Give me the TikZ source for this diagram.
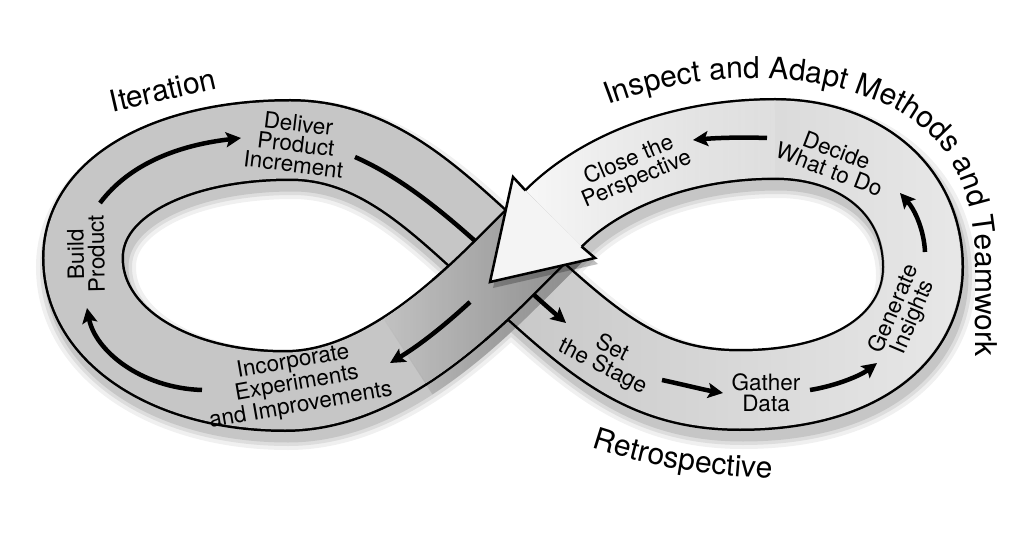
\documentclass[tikz,border=0pt]{standalone}
\usepackage{fontspec}
\setmainfont{TeX Gyre Heros}
\usetikzlibrary{arrows.meta,decorations.text,fadings}

\definecolor{bandgray}{HTML}{C6C6C6}
\definecolor{headfill}{HTML}{F4F4F4}
\newcommand\lblfont{\fontsize{22.5}{20.5}\selectfont}
\newcommand\bigfnt{\fontsize{30}{32}\selectfont}

\tikzfading[name=fadeR, left color=transparent!100, right color=transparent!40]
\tikzfading[name=fadeL, left color=transparent!10, right color=transparent!100]
\tikzfading[name=fadeDark, left color=transparent!100, middle color=transparent!100, right color=transparent!70]
\tikzfading[name=fadeSh, left color=transparent!100, middle color=transparent!100, right color=transparent!0]

\def\figeight{(507,265) .. controls (590,340) and (640,390) .. (740,390)
  .. controls (860,390) and (923,335) .. (923,267)
  .. controls (923,190) and (860,139) .. (775,139)
  .. controls (680,139) and (600,172) .. (553.5,218.5)
  -- (507,265) .. controls (447,325) and (370,391) .. (285,391)
  .. controls (170,391) and (83,335) .. (83,258)
  .. controls (83,185) and (175,140) .. (290,140)
  .. controls (380,140) and (440,205) .. (507,265)}
\def\rightloop{(507,265) .. controls (590,340) and (640,390) .. (740,390)
  .. controls (860,390) and (923,335) .. (923,267)
  .. controls (923,190) and (860,139) .. (775,139)
  .. controls (680,139) and (600,172) .. (553.5,218.5)}
\def\overstrand{(553.5,218.5) -- (507,265) .. controls (477,295) and (442.75,326.5) .. (405.375,350.5)}
\def\overD{(553.5,218.5) -- (507,265) .. controls (492,280) and (475.94,295.375) .. (458.95,310)}
\def\headpoly{(525.6,190.6) -- (513,177) -- (490,282) -- (595,258) -- (581.4,246.4)}

\begin{document}
\begin{tikzpicture}[x=1pt,y=-1pt,
  outline/.style={draw=black, line width=82pt},
  bandfill/.style={draw=bandgray, line width=77pt},
  flow/.style={line width=4.5pt, -{Stealth[length=15pt,width=15pt,inset=3pt]}},
  lbl/.style={font=\lblfont, align=center, inner sep=0pt},
  bigtext/.style={font=\bigfnt, inner sep=0pt}]

\fill[white] (0,0) rectangle (1024,534);
\useasboundingbox (0,0) rectangle (1024,534);

% soft drop shadow of the whole band
\begin{scope}[shift={(3,9)}]
  \draw[black, opacity=0.06, line width=100pt] \figeight;
  \draw[black, opacity=0.08, line width=92pt] \figeight;
  \draw[black, opacity=0.10, line width=85pt] \figeight;
\end{scope}

% base band
\draw[outline] \figeight;
\draw[bandfill] \figeight;
\draw[white, line width=77pt, path fading=fadeR] \rightloop;

% arrow passing under the crossing
\draw[flow] (355,157) .. controls (430,190) and (495,262) .. (566,323);

% shadow of the upper strand on the lower one
\begin{scope}[shift={(3,7)}]
  \draw[black, opacity=0.35, line width=88pt, path fading=fadeSh] \overstrand;
\end{scope}

% upper strand: outline only over the crossing, fill longer (no seams)
\draw[outline] \overD;
\draw[bandfill] \overstrand;
\draw[black, line width=77pt, path fading=fadeDark] \overstrand;

% white shaft
\draw[white, line width=77pt, path fading=fadeL] (775,139) .. controls (680,139) and (600,172) .. (553.5,218.5);

% arrow head
\fill[black, opacity=0.25, shift={(3,6)}] \headpoly -- cycle;
\fill[headfill] \headpoly -- cycle;
\draw[line width=2.5pt, line join=miter] \headpoly;

% flow arrows
\draw[flow] (100,203) .. controls (130,163) and (180,145) .. (241,138);
\draw[flow] (470,302) .. controls (445,325) and (420,345) .. (390,363);
\draw[flow] (202,390) .. controls (140,388) and (95,350) .. (87,308);
\draw[flow] (662,380) .. controls (685,385) and (705,390) .. (723,393);
\draw[flow] (810,390) .. controls (835,386) and (860,376) .. (877,363);
\draw[flow] (925,252) .. controls (924,230) and (915,210) .. (900,193);
\draw[flow] (767,138) .. controls (740,137) and (715,138) .. (693,140);

% labels
\node[lbl, rotate=-7] (deliver) at (296,144) {Deliver\\Product\\Increment};
\node[lbl, rotate=91] (build) at (86,254) {Build\\Product};
\node[lbl, rotate=10] (incorp) at (297,384) {Incorporate\\Experiments\\and Improvements};
\node[lbl, rotate=23] (close) at (633,170) {Close the\\Perspective};
\node[lbl, rotate=-21] (decide) at (833,160) {Decide\\What to Do};
\node[lbl, rotate=67] (generate) at (904,313) {Generate\\Insights};
\node[lbl] (gather) at (766,393) {Gather\\Data};
\node[lbl, rotate=-27] (setstage) at (607,358) {Set\\the Stage};
\node[bigtext, rotate=13] (iteration) at (163,90) {Iteration};

% curved titles
\path[decorate, decoration={text along path,
  text={|\bigfnt|Inspect and Adapt Methods and Teamwork}}]
  (608,105) .. controls (705,68) and (820,68) .. (900,112)
  .. controls (950,140) and (975,190) .. (975,260) -- (975,400);
\path[decorate, decoration={text along path,
  text={|\bigfnt|Retrospective}}]
  (592,447) .. controls (650,466) and (710,479) .. (810,479);
\end{tikzpicture}
\end{document}
